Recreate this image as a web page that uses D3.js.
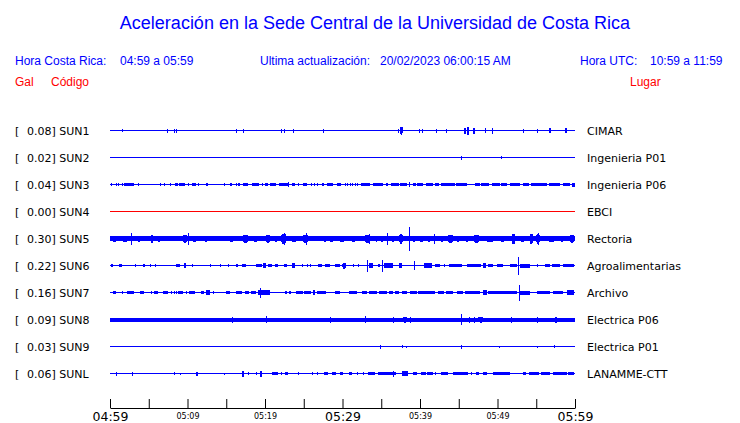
<!DOCTYPE html>
<html><head><meta charset="utf-8">
<script src="https://cdn.jsdelivr.net/npm/d3@7"></script>
<style>
html,body{margin:0;padding:0;background:#fff;}
svg{display:block;}
</style></head>
<body>
<svg id="c" width="740" height="423"></svg>
<script>
// ---------------- DATA ----------------
const titleText = "Aceleración en la Sede Central de la Universidad de Costa Rica";
const localTime = ["Hora Costa Rica:", "04:59 a 05:59"];
const updated = ["Ultima actualización:", "20/02/2023 06:00:15 AM"];
const utcTime = ["Hora UTC:", "10:59 a 11:59"];

const codes  = ["SUN1","SUN2","SUN3","SUN4","SUN5","SUN6","SUN7","SUN8","SUN9","SUNL"];
const places = ["CIMAR","Ingenieria P01","Ingenieria P06","EBCI","Rectoria","Agroalimentarias","Archivo","Electrica P06","Electrica P01","LANAMME-CTT"];
const peakGal = [0.08,0.02,0.04,0.00,0.30,0.22,0.16,0.09,0.03,0.06];
// continuous background noise half-amplitude per station (relative units)
const noiseAmp = [0,0,0,0,2.2,0,0,2,0,0];

// minutes after 04:59 for axis ticks
const tickMinutes = [0,5,10,15,20,25,30,35,40,45,50,55,60];
const tickLabels  = ["04:59","","05:09","","05:19","","05:29","","05:39","","05:49","","05:59"];
const majorTicks  = [0,30,60];

// bursts: [start minute, end minute, half-amplitude]
const sun1 = [[1.5,1.5,1.5],[7.3,7.3,2],[8.3,8.3,2],[8.55,8.55,2],[16.3,16.3,2],[17.1,17.1,2],[22.0,22.0,2],[22.4,22.4,2],[23.65,23.65,2],[27.5,27.5,2],[37.1,37.1,2],[37.35,37.85,4],[39.9,39.9,2],[40.2,40.2,2],[42.1,42.1,2],[43.4,43.4,2],[45.7,45.9,3],[46.1,46.3,4],[46.8,47.1,3],[48.35,48.5,2.5],[49.3,49.3,3],[53.3,53.3,2],[55.1,55.1,2],[56.7,56.9,2.5],[58.75,59.0,2.5]];
const sun2 = [[45.3,45.3,2],[50.4,50.4,1.2]];
const sun3 = [[0.13,0.13,1.5],[0.74,0.74,1.5],[1.07,1.07,1.5],[1.59,1.59,1.5],[1.85,3.06,1.5],[3.65,3.65,1.5],[6.5,6.5,1.5],[6.93,6.93,1.5],[7.78,7.78,1.5],[8.39,8.74,1.5],[8.9,9.68,1.5],[10.03,10.03,1.5],[10.54,11.06,1.5],[11.4,11.4,1.5],[12.43,12.6,1.5],[14.75,14.75,1.5],[15.52,15.7,1.5],[16.2,16.2,1.5],[16.55,16.8,1.5],[17.16,17.77,1.5],[18.28,19.23,1.5],[19.57,19.57,1.5],[20,20.35,1.5],[20.6,21.38,1.5],[21.8,23.1,1.5],[22.93,22.93,2.5],[23.52,23.87,1.5],[24.2,24.2,1.5],[24.9,25.42,1.5],[25.94,25.94,1.5],[26.28,26.28,1.5],[26.7,26.7,1.5],[27.4,27.56,1.5],[28,28.77,1.5],[29.3,29.8,1.5],[30.36,30.36,1.5],[30.62,30.62,1.5],[30.97,30.97,1.5],[31.23,31.23,1.5],[31.57,31.57,1.5],[31.9,31.9,1.5],[32.43,33.55,1.5],[33.97,35.19,1.5],[35.6,35.87,1.5],[36.22,37.25,1.5],[37.42,38.28,1.5],[38.6,38.6,2.5],[39.06,39.48,1.5],[39.65,40.43,1.5],[40.77,41.64,1.5],[41.9,42.5,1.5],[42.7,44.5,1.5],[44.7,46.0,1.5],[47.06,47.74,1.5],[47.9,48.94,1.5],[49.29,50.32,1.5],[50.5,51.19,1.5],[51.6,52.9,1.5],[53.25,54.0,1.5],[54.28,56.35,1.5],[56.68,58.06,1.5],[58.41,59.35,1.5],[59.61,60,2]];
const sun4 = [];
const sun5 = [[0.13,1.07,3],[1.42,2.45,3],[2.71,2.88,6],[3.32,4.09,3],[5.2,5.64,4],[5.97,6.67,3],[8.65,8.65,2.5],[9.25,10.1,4],[10.03,10.03,6],[10.36,11.39,3],[12,12.68,3],[12.94,13.2,2.5],[14.32,14.32,2.5],[15.26,16.22,3],[17.07,17.85,4],[18.28,19.23,3],[20,20.77,4],[21.03,21.72,3],[21.97,22.84,5],[22.4,22.4,6],[23.1,24.39,3],[24.81,25.68,4],[25.25,25.25,6],[27.39,28,3],[28.43,28.77,3],[29.38,30.54,3],[30.97,31.83,3],[32.77,33.64,4],[33.37,33.37,5],[34.15,34.58,3],[34.75,35.52,3],[35.78,35.78,6],[36.13,36.81,3],[37.25,37.85,5],[38.62,38.62,12],[38.88,39.48,3],[39.83,40.61,3],[40.86,41.55,3],[41.81,41.97,5],[42.41,43.26,3],[43.52,44.3,4],[44.74,45,3],[45.68,46.45,3],[46.88,47.74,4],[48.17,49.9,3],[50.23,51.19,3],[51.87,52.22,5],[52.74,53.77,3],[54.1,54.62,5],[54.97,55.48,5],[55.23,55.23,6],[56.26,57.64,3],[57.9,58.75,3],[59.19,60,4]];
const sun6 = [[0.13,0.39,1.5],[1.16,1.51,1.5],[3.23,3.23,1.2],[4.26,4.52,1.5],[5.12,5.12,1.5],[5.81,5.81,1.2],[8.55,8.99,1.5],[9.5,9.85,2.5],[10.62,10.62,1.5],[12.85,12.85,1.5],[14.23,14.23,1.5],[15.26,15.26,1.5],[16.3,16.48,1.5],[17.03,17.55,1.5],[18.8,19.57,1.5],[19.74,20.09,2.5],[20.43,20.86,1.5],[21.29,21.64,1.5],[22.41,22.8,1.5],[23.45,23.87,2.5],[24.74,24.74,1.5],[25.38,25.38,1.5],[25.81,25.81,1.5],[26.88,27.39,1.5],[27.78,28.39,1.5],[29.07,29.68,1.5],[29.9,30.54,3],[31.39,31.39,1.5],[32,32,1.5],[33.2,33.2,6],[33.37,33.97,2.5],[34.58,34.84,1.5],[35.1,35.1,6],[35.35,36.55,2.5],[37.25,37.68,2.5],[39.23,39.23,4.5],[40.52,41.55,2.5],[41.97,42.58,1.5],[43.1,43.1,1.5],[43.7,45.42,1.5],[46.1,47.83,1.5],[48.17,48.52,2.5],[48.77,49.42,1.5],[49.9,50.75,1.5],[51.61,52.48,1.5],[52.65,52.65,9],[52.9,54.19,2],[55.14,55.14,1.5],[56.13,56.77,1.5],[57.03,58.06,1.5],[58.49,59.87,1.5]];
const sun7 = [[0.39,0.74,1.5],[1.51,1.51,1.5],[2.19,3.06,1.5],[3.83,4.43,1.5],[5.29,5.29,1.5],[5.72,6.23,1.5],[6.84,7.52,1.5],[7.87,7.87,1.5],[8.22,8.22,1.5],[8.48,8.48,1.5],[8.74,9.42,1.5],[9.77,9.77,1.5],[10.19,10.97,1.5],[11.74,12.09,1.5],[12.43,12.94,2.5],[13.29,13.29,1.5],[14.93,15.52,1.5],[16.22,17.07,1.5],[17.42,17.94,1.5],[18.15,18.84,1.5],[19.14,20.61,2.5],[19.4,19.4,5],[22.54,22.8,1.5],[23.06,23.39,1.5],[24,24.86,1.5],[25.03,25.97,1.5],[26.23,26.49,2.5],[26.75,27.87,1.5],[29.07,29.68,1.5],[30.88,31.83,1.5],[32.52,33.12,1.5],[33.46,34.41,1.5],[34.67,35.7,1.5],[35.96,36.55,1.5],[36.74,37.33,1.5],[37.68,38.28,1.5],[38.71,39.57,1.5],[39.74,41.9,1.5],[42.32,43.1,1.5],[43.35,44.3,1.5],[44.74,45.59,1.5],[45.85,47.74,1.5],[48.09,48.61,2.5],[48.81,50.97,1.5],[50.97,52.48,1.5],[52.74,52.74,8],[52.9,54.19,2],[55.06,56.77,1.5],[57.2,58.49,1.5],[58.93,59.87,2.5]];
const sun8 = [[15.7,15.7,3],[20.13,20.13,3.5],[28.39,28.39,3],[32.94,32.94,3.5],[36.55,36.55,3],[37.85,38.28,3],[38.71,38.71,3],[45.35,45.35,5.5],[46.36,46.36,3],[46.97,46.97,3],[47.52,48.17,3],[51.74,51.74,3],[55.06,55.06,3],[57.42,57.64,3]];
const sun9 = [[34.88,34.88,2],[37.68,37.68,1.2],[38.19,38.19,1],[45.3,45.45,2],[50.23,50.23,1],[55.14,55.14,1],[57.29,57.29,1.5]];
const sunL = [[0.74,0.74,2],[2.88,2.88,2],[8.3,8.3,1.5],[9.07,9.07,1],[11.14,11.32,2],[14.75,14.75,1],[16.99,17.25,3],[17.77,17.77,1.5],[18.88,18.88,1.5],[19.39,19.65,3],[20.86,21.72,1.5],[22.06,22.06,1.5],[22.58,22.93,1.5],[24.22,24.22,1.5],[26.1,26.1,1.5],[26.71,26.71,1.5],[27.65,28.09,1.5],[28.61,29.12,1.5],[29.72,30.06,1.5],[30.88,31.23,1.5],[31.91,31.91,1.5],[32.68,32.68,1.5],[33.29,34.23,1.5],[34.58,36.9,1.5],[36.55,36.55,3],[37.68,38.45,2.5],[39.06,39.57,1.5],[40.09,40.77,1.5],[40.94,41.72,1.5],[41.97,41.97,1.5],[42.75,43.61,1.5],[44.22,46.19,1.5],[46.54,46.54,1.5],[47.23,47.65,1.5],[48.17,48.61,1.5],[49.46,51.61,1.5],[53.33,53.68,1.5],[54.1,55.39,1.5],[55.57,56.77,1.5],[57.2,58.93,1.5],[59.14,59.87,1.5]];
const bursts = [sun1,sun2,sun3,sun4,sun5,sun6,sun7,sun8,sun9,sunL];

// ---------------- DRAW ----------------
const BLUE = "#0000ff", RED = "#ff0000";
const svg = d3.select("#c");
const sansH = "'Liberation Sans', Arial, Helvetica, sans-serif";
const dejavu = "'DejaVu Sans', Verdana, sans-serif";

svg.append("text").attr("x", 375).attr("y", 29).attr("text-anchor","middle")
  .attr("font-family", sansH).attr("font-size", 18).attr("fill", BLUE).text(titleText);

const info = svg.append("g").attr("font-family", sansH).attr("font-size", 12).attr("fill", BLUE);
info.append("text").attr("x", 15).attr("y", 65).text(localTime[0]);
info.append("text").attr("x", 120).attr("y", 65).text(localTime[1]);
info.append("text").attr("x", 260).attr("y", 65).text(updated[0]);
info.append("text").attr("x", 380).attr("y", 65).text(updated[1]);
info.append("text").attr("x", 580).attr("y", 65).text(utcTime[0]);
info.append("text").attr("x", 650).attr("y", 65).text(utcTime[1]);

const hdr = svg.append("g").attr("font-family", sansH).attr("font-size", 12).attr("fill", RED);
hdr.append("text").attr("x", 15).attr("y", 86).text("Gal");
hdr.append("text").attr("x", 51).attr("y", 86).text("Código");
hdr.append("text").attr("x", 630).attr("y", 86).text("Lugar");

const x = d3.scaleLinear().domain([0, 60]).range([110, 575]);
const y = d3.scalePoint().domain(codes).range([130.5, 373.5]);
const amp = d3.scaleLinear().domain([0, 1]).range([0, 1]);

// burst outline: tapered spindle for larger bursts, block for small ones
function burstPath(d, cy, base) {
  const x0 = x(d[0]), x1 = Math.max(x(d[1]), x0 + 1), a = amp(d[2]);
  const w = x1 - x0;
  if (d[2] < 3 || w < 3) {
    return `M${x0},${cy - a}H${x1}V${cy + a}H${x0}Z`;
  }
  const b = Math.max(amp(base), 0.5);
  const q = w * 0.3;
  return `M${x0},${cy - b}L${x0 + q},${cy - a}L${x1 - q},${cy - a}L${x1},${cy - b}` +
         `V${cy + b}L${x1 - q},${cy + a}L${x0 + q},${cy + a}L${x0},${cy + b}Z`;
}

const rows = svg.selectAll("g.row").data(codes).join("g").attr("class","row");
rows.each(function(code, i) {
  const g = d3.select(this);
  const cy = y(code);
  const col = peakGal[i] === 0 ? RED : BLUE;
  g.append("text").attr("x", 15).attr("y", cy + 4).attr("font-family", dejavu).attr("font-size", 11).attr("fill","#000").text("[");
  g.append("text").attr("x", 27).attr("y", cy + 4).attr("font-family", dejavu).attr("font-size", 11).attr("fill","#000")
    .text(peakGal[i].toFixed(2) + "] " + code);
  g.append("text").attr("x", 587).attr("y", cy + 4).attr("font-family", dejavu).attr("font-size", 11).attr("fill","#000").text(places[i]);
  g.append("line").attr("x1", x(0)).attr("x2", x(60)).attr("y1", cy).attr("y2", cy)
    .attr("stroke", col).attr("stroke-width", 1).attr("shape-rendering","crispEdges");
  if (noiseAmp[i] > 0) {
    g.append("rect").attr("x", x(0)).attr("width", x(60) - x(0))
      .attr("y", cy - amp(noiseAmp[i])).attr("height", 2 * amp(noiseAmp[i]))
      .attr("fill", col).attr("shape-rendering","crispEdges");
  }
  g.selectAll("path.b").data(bursts[i]).join("path").attr("class","b")
    .attr("d", d => burstPath(d, cy, noiseAmp[i]))
    .attr("fill", col).attr("shape-rendering","crispEdges");
});

const axis = d3.axisBottom(x).tickValues(tickMinutes)
  .tickFormat((d, i) => tickLabels[i]).tickSizeInner(-9).tickSizeOuter(0);
const ag = svg.append("g").attr("transform", "translate(0,408)").call(axis);
ag.select(".domain").attr("stroke", "#000");
ag.selectAll(".tick line").attr("stroke", "#000");
ag.selectAll(".tick text")
  .attr("font-family", dejavu)
  .attr("fill", "#000")
  .attr("y", d => majorTicks.includes(d) ? 4 : 5)
  .attr("font-size", d => majorTicks.includes(d) ? 12.5 : 8)
  .attr("font-weight", "normal");
</script>
</body></html>
